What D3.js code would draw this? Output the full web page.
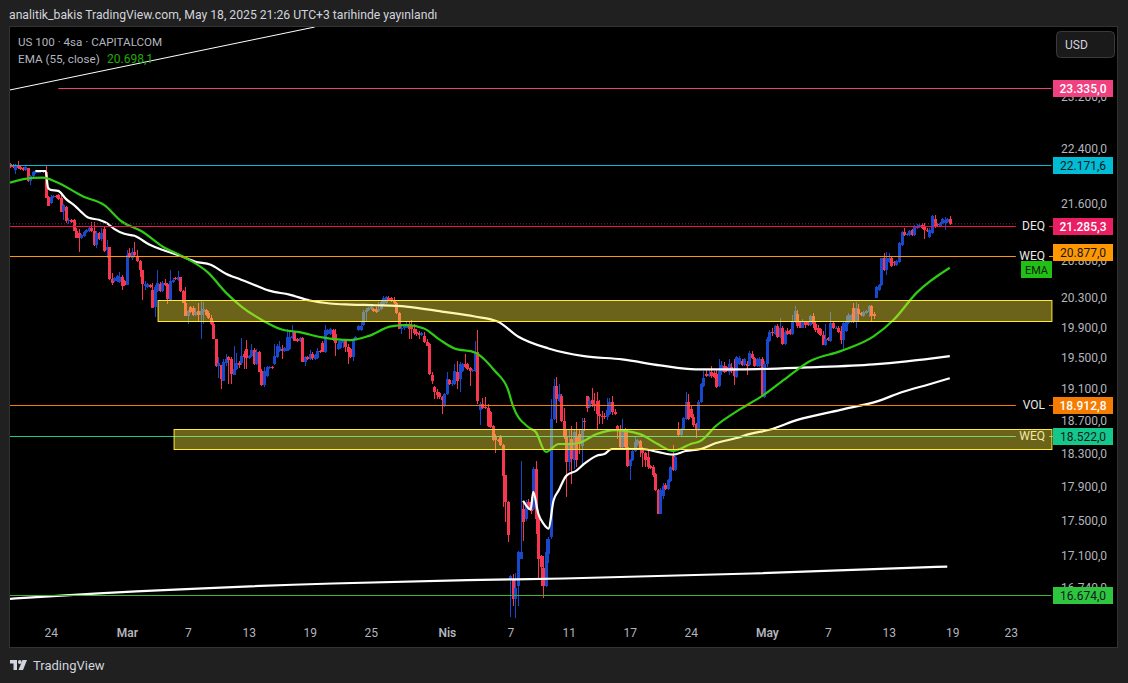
<!DOCTYPE html>
<html>
<head>
<meta charset="utf-8">
<script src="https://cdn.jsdelivr.net/npm/d3@7"></script>
<style>
  html, body { margin: 0; padding: 0; background: #202020; }
  svg { display: block; }
  text { font-family: Roboto, "Liberation Sans", sans-serif; }
</style>
</head>
<body>
<div id="chart"></div>
<script>
// 4h candles, one entry per bar
const opens = [
22201,22186,22113,22172,22157,22142,22113,22142,21953,22025,
22069,22069,22084,22098,22084,21721,21635,21721,21736,21750,
21707,21521,21578,21379,21393,21393,21237,21209,21139,21167,
21223,21237,21279,21237,21041,21209,21125,21265,20972,21014,
20573,20545,20545,20532,20600,20545,20491,20930,20860,20944,
20888,20819,20696,20478,20464,20491,20424,20195,20410,20505,
20410,20518,20505,20289,20532,20586,20559,20600,20410,20249,
20075,20195,20182,20088,20142,20088,20128,20155,20115,20048,
19956,19759,19408,19421,19218,19447,19525,19499,19294,19370,
19447,19447,19564,19628,19512,19538,19615,19434,19589,19345,
19167,19281,19383,19395,19434,19525,19602,19628,19602,19602,
19628,19772,19851,19759,19733,19772,19460,19525,19499,19564,
19499,19512,19602,19707,19589,19824,19824,19877,19824,19628,
19641,19707,19733,19654,19628,19525,19759,19877,19877,19943,
20128,20155,20168,20168,20168,20142,20168,20236,20249,20316,
20316,20289,20249,20115,19890,19916,19916,19956,19943,19890,
19851,19838,19811,19798,19720,19693,19294,19142,19078,19066,
19015,18903,19053,19230,19180,19180,19332,19243,19345,19434,
19434,19383,19345,19345,19589,18853,18928,18890,18878,18828,
18654,18531,18482,18519,18421,18059,17739,16847,16847,16626,
16769,17083,17657,17541,17739,17739,17657,18131,17541,17117,
16981,16769,17140,17333,18740,19154,18965,19028,18716,18531,
18215,18494,18239,18519,18555,18409,18716,19028,18890,18977,
18928,18965,18803,18778,18778,18765,18803,18952,18828,18654,
18617,18397,18592,18397,18167,18239,18348,18433,18470,18372,
18324,18276,18167,18155,18071,17880,17599,17810,17940,17892,
17987,18288,18119,18617,18543,18617,18740,18952,18865,18765,
18679,18605,18952,19154,19307,19281,19332,19319,19307,19154,
19332,19408,19395,19332,19395,19370,19268,19434,19473,19421,
19434,19421,19564,19512,19408,19408,19499,19015,19434,19733,
19851,19824,19930,19785,19903,19693,19864,19877,19824,19995,
20102,19995,19916,19995,19995,19943,20075,19956,19903,19890,
19811,19680,19772,19733,19982,19903,19916,19864,19746,19864,
19982,19995,20182,19995,20168,20115,20075,20115,20128,20209,
20102,20316,20424,20491,20860,20696,20806,20860,20806,20764,
20806,21041,21223,21181,21181,21251,21181,21279,21294,21322,
21308,21251,21153,21209,21407,21336,21308,21350,21350,21365,21407];
const highs = [
22216,22201,22201,22245,22172,22157,22172,22142,22040,22098,
22113,22113,22113,22113,22172,21736,21750,21750,21750,21765,
21750,21621,21592,21421,21407,21407,21279,21265,21195,21237,
21265,21294,21365,21365,21237,21223,21279,21308,21111,21014,
20655,20600,20628,20669,20628,20559,20972,21000,21000,21083,
20972,20833,20696,20545,20518,20505,20518,20491,20696,20532,
20545,20573,20518,20696,20586,20600,20682,20600,20424,20464,
20155,20209,20209,20182,20249,20276,20262,20168,20142,20088,
19995,19759,19525,19421,19499,19564,19538,19525,19667,19576,
19473,19772,19602,19746,19551,19693,19641,19628,19602,19370,
19395,19408,19408,19408,19693,19693,19733,19680,19654,19890,
19864,19943,19864,19772,19785,19785,19538,19538,19615,19589,
19564,19641,19615,19733,19943,19890,19903,19890,19890,19733,
19746,19759,19746,19693,19641,19772,19798,19943,19995,20155,
20182,20195,20209,20182,20195,20262,20289,20343,20343,20343,
20329,20329,20262,20128,19956,19969,19995,20009,20022,19956,
19890,19864,19851,19851,19759,19707,19332,19154,19116,19078,
19028,19066,19332,19243,19230,19434,19473,19460,19447,19564,
19447,19395,19370,19733,19877,18952,19003,19015,18928,18840,
18666,18555,18494,18543,18433,18059,17751,16892,16903,16914,
17173,18227,17751,17762,17774,17798,18155,18227,17622,17128,
17106,17310,17333,18990,19243,19268,19180,19053,18878,18617,
18617,18654,18617,18703,18617,18753,18753,19028,19015,19129,
19066,19078,18977,18840,18815,19003,19003,19028,18865,18666,
18666,18740,18629,18592,18251,18360,18531,18494,18482,18397,
18336,18372,18179,18179,18083,17892,17904,17964,17964,18011,
18167,18421,18288,18703,18629,18765,19078,19053,18903,18803,
18691,18977,19192,19345,19357,19370,19408,19345,19370,19499,
19473,19460,19408,19499,19447,19499,19538,19538,19499,19512,
19473,19602,19602,19525,19512,19525,19525,19473,19785,19877,
19903,19943,19956,20048,19930,19877,19916,19890,20088,20209,
20155,20009,20035,20009,20009,20088,20115,19995,19943,19903,
19864,19956,19785,20128,20009,19930,19930,19930,19995,20075,
20115,20102,20249,20262,20236,20128,20142,20155,20222,20222,
20128,20478,20505,20860,20930,20944,20930,20874,20819,20833,
21083,21237,21279,21209,21251,21265,21322,21336,21336,21350,
21350,21279,21279,21464,21464,21350,21365,21421,21436,21421,21450];
const lows = [
22142,22142,22055,22128,22113,22098,22098,21938,21895,21982,
22055,22069,22069,22069,21707,21592,21621,21707,21707,21678,
21507,21393,21350,21336,21350,21237,21139,20944,21125,21153,
21209,21223,21223,21028,21000,21111,21097,20944,20860,20559,
20491,20532,20532,20518,20424,20478,20491,20860,20833,20888,
20806,20600,20289,20424,20451,20451,20182,20062,20397,20397,
20397,20478,20236,20289,20518,20559,20545,20397,20249,20075,
19969,20115,20075,20075,19995,19759,19956,20075,20035,19943,
19759,19395,19256,19116,19218,19408,19180,19180,19294,19357,
19383,19421,19370,19370,19499,19525,19421,19421,19332,19154,
19142,19268,19370,19370,19421,19512,19589,19499,19589,19602,
19615,19759,19733,19720,19720,19460,19408,19486,19486,19486,
19486,19499,19576,19589,19576,19811,19811,19733,19538,19615,
19628,19641,19589,19434,19512,19473,19746,19864,19864,19930,
19995,20142,20155,20128,20115,20128,20155,20222,20236,20276,
20262,20236,20102,19890,19824,19877,19903,19759,19759,19811,
19798,19759,19798,19707,19667,19294,19180,18990,18990,18990,
18803,18890,19040,19167,19154,19167,19116,19078,19332,19383,
19357,19154,19332,19332,18928,18666,18865,18865,18642,18629,
18470,18324,18458,18409,17680,17506,17276,16429,16549,16418,
16549,17072,17287,17518,17645,17599,17645,17367,16858,16769,
16637,16758,17027,17310,18728,18691,18952,18703,18494,17798,
18107,17952,18131,18155,18312,18167,18592,18828,18878,18890,
18840,18617,18679,18679,18740,18728,18790,18790,18790,18494,
18385,18385,18385,18155,17999,18227,18336,18409,18276,18155,
18155,18131,18131,18035,17869,17599,17599,17774,17880,17880,
17975,18107,18107,18531,18531,18605,18728,18728,18753,18642,
18506,18592,18940,19142,19268,19268,19256,19256,19129,19142,
19294,19319,19332,19294,19319,19167,19256,19421,19408,19408,
19294,19408,19499,19395,19395,19395,19015,19003,19395,19720,
19798,19811,19772,19772,19680,19680,19811,19811,19811,19982,
19916,19903,19903,19903,19930,19930,19903,19851,19824,19798,
19680,19667,19733,19720,19890,19890,19838,19693,19615,19851,
19969,19982,19982,19916,20009,20075,20062,20102,20062,20009,
20035,20316,20410,20478,20682,20628,20792,20737,20751,20751,
20792,21028,21167,21167,21167,21167,21167,21265,21279,21265,
21125,21223,21139,21195,21279,21308,21294,21336,21251,21350,21322];
const closes = [
22157,22157,22186,22142,22128,22113,22157,21953,22025,22084,
22098,22098,22098,22084,21707,21592,21721,21736,21721,21693,
21507,21606,21379,21393,21365,21237,21139,21139,21181,21223,
21251,21279,21237,21041,21209,21125,21209,20958,21014,20573,
20518,20586,20614,20600,20478,20491,20902,20888,20944,20902,
20819,20696,20505,20505,20505,20464,20182,20464,20518,20410,
20518,20491,20302,20545,20559,20573,20600,20410,20249,20075,
20142,20128,20088,20128,20088,20142,20168,20088,20048,19956,
19759,19408,19447,19243,19460,19499,19486,19307,19370,19447,
19421,19538,19525,19512,19538,19615,19434,19589,19332,19167,
19345,19395,19395,19383,19538,19667,19654,19602,19641,19785,
19785,19798,19733,19733,19772,19460,19525,19499,19564,19512,
19551,19602,19589,19589,19877,19877,19890,19746,19707,19693,
19733,19746,19654,19589,19525,19759,19785,19930,19930,20128,
20155,20182,20195,20142,20128,20168,20262,20316,20329,20289,
20276,20249,20115,19890,19916,19943,19956,19890,19890,19838,
19824,19811,19838,19720,19667,19307,19218,19078,19040,19015,
18977,19053,19243,19180,19192,19345,19218,19434,19434,19395,
19370,19345,19357,19589,18965,18928,18878,18878,18654,18642,
18482,18482,18470,18421,18047,17739,17356,16881,16626,16747,
17162,17162,17506,17739,17657,17634,18131,17541,17083,16992,
16769,17162,17310,18740,19154,18990,19053,18716,18531,18215,
18433,18251,18580,18239,18433,18605,18703,18878,18965,18928,
18915,18803,18778,18765,18765,18853,18952,18828,18803,18617,
18397,18617,18397,18167,18239,18348,18458,18482,18372,18324,
18239,18155,18143,18059,17880,17599,17880,17928,17892,17999,
18155,18119,18276,18543,18617,18753,18952,18740,18765,18666,
18605,18952,19180,19256,19281,19307,19281,19268,19142,19345,
19421,19332,19345,19434,19345,19281,19525,19512,19421,19499,
19408,19576,19512,19408,19499,19499,19028,19434,19759,19851,
19838,19930,19785,19903,19693,19851,19824,19824,19995,20142,
19930,19916,19995,19943,19943,20075,19956,19877,19838,19811,
19680,19759,19746,19982,19903,19916,19851,19746,19982,19995,
20088,20088,19995,20182,20102,20088,20128,20142,20209,20075,
20075,20464,20491,20860,20696,20860,20860,20751,20792,20819,
21069,21223,21181,21195,21237,21181,21308,21308,21322,21279,
21251,21237,21251,21450,21308,21322,21350,21407,21393,21407,21336];

// EMA 55, read every few bars
const emaBars = [0,9,13,18,29,37,44,52,60,68,78,85,91,100,107,114,123,134,141,150,156,163,169,175,183,191,196,198,204,207,211,216,221,224,231,238,248,255,261,268,272,278,287,296,306,315,327,340,348,357,370];
const emaValues = [21928,21996,22000,21942,21725,21606,21369,21227,21018,20879,20655,20383,20199,20000,19890,19855,19785,19750,19802,19930,19947,19903,19759,19641,19589,19345,19116,18906,18642,18580,18336,18433,18433,18445,18555,18605,18555,18433,18348,18433,18473,18658,18856,19028,19268,19477,19606,19798,20022,20383,20723];

// white averages
const slowBars = [10,14,15,16,19,22,26,28,31,35,38,41,45,49,55,61,67,73,79,85,91,96,102,110,118,126,134,144,156,170,183,192,200,212,226,241,256,270,287,314,340,353,370];
const slowValues = [22098,22098,21851,21822,21808,21693,21578,21507,21421,21393,21350,21265,21195,21167,21041,20958,20888,20806,20764,20641,20559,20491,20410,20356,20276,20236,20222,20213,20195,20128,20062,19995,19798,19641,19541,19499,19421,19370,19370,19395,19434,19473,19541];
const fastBars = [202,205,206,208,210,212,214,216,219,223,226,231,234,237,243,249,255,261,266,272,278,286,291,299,310,327,342,351,362,370];
const fastValues = [17751,17649,17857,17599,17483,17425,17754,17872,18047,18111,18191,18291,18311,18372,18372,18372,18336,18303,18348,18372,18445,18506,18555,18608,18731,18856,18969,19078,19180,19256];
const baseBars = [0,35,127,180,218,292,369];
const baseValues = [16632,16692,16802,16839,16858,16914,16992];

// drawn trend line at the top
const trendBars = [0,120];
const trendValues = [23320,24316];

// horizontal levels
const levelPrices = [23335,22171.6,21285.3,20877,18912.8,18522,16674];
const levelNames = ["","","DEQ","WEQ","VOL","WEQ",""];
const levelStartBars = [19,0,0,0,0,0,0];
const levelEndBars = [410,410,396,396,396,396,410];
const lastPrice = 21336;

// yellow zones
const zoneTops = [20282,18613];
const zoneBottoms = [20009,18368];
const zoneStartBars = [58.3,64.6];
const zoneEndBar = 410.2;

// axis labels
const priceTicks = [23200,22400,21600,20800,20300,19900,19500,19100,18700,18300,17900,17500,17100,16740];
const dateBars = [16,46,70,94,118,142,172,197,220,244,268,298,322,346,371,394];
const dateLabels = ["24","Mar","7","13","19","25","Nis","7","11","17","24","May","7","13","19","23"];

const TITLE = "analitik_bakis TradingView.com, May 18, 2025 21:26 UTC+3 tarihinde yayınlandı";
const WIDTH = 1128, HEIGHT = 683;
const PLOT = { left: 10, right: 1117, top: 27, bottom: 647 };
const UP = "#1848cc", DOWN = "#f7374f";
const AXIS_TEXT = "#b2b5be";
const levelColors = ["#f0407f","#00bcd4","#f0134f","#ff9800","#f57c00","#1ac98f","#3fb52f"];
const badgeColors = ["#f0407f","#00bcd4","#e91e63","#ff9800","#f57c00","#14c88c","#2fc63f"];
const badgeText = ["#fff","#131722","#fff","#131722","#fff","#131722","#131722"];
const badgeShift = [0,0,0,-4,0,0,0];
const levelNudge = [-1,0,-1,0,0,0,0]; // pixel row snap

const locale = d3.formatLocale({ decimal: ",", thousands: ".", grouping: [3], currency: ["", ""] });
const fmt = locale.format(",.1f");

const xScale = d3.scaleLinear().domain([0, 370]).range([10, 949.8]);
const yScale = d3.scaleLog().domain([16674, 23335]).range([595, 89]);

const svg = d3.select("#chart").append("svg").attr("width", WIDTH).attr("height", HEIGHT);

svg.append("rect").attr("width", WIDTH).attr("height", HEIGHT).attr("fill", "#202020");
svg.append("rect")
  .attr("x", PLOT.left - 0.5).attr("y", PLOT.top - 0.5)
  .attr("width", PLOT.right - PLOT.left + 1).attr("height", PLOT.bottom - PLOT.top + 1)
  .attr("fill", "#000").attr("stroke", "#333");

svg.append("defs").append("clipPath").attr("id", "plot-clip").append("rect")
  .attr("x", PLOT.left).attr("y", PLOT.top)
  .attr("width", PLOT.right - PLOT.left).attr("height", PLOT.bottom - PLOT.top);
const plot = svg.append("g").attr("clip-path", "url(#plot-clip)");

// candles
const candles = plot.append("g").attr("shape-rendering", "crispEdges");
candles.selectAll("rect.wick").data(opens).join("rect")
  .attr("class", "wick")
  .attr("x", (d, i) => Math.round(xScale(i)))
  .attr("width", 1)
  .attr("y", (d, i) => yScale(highs[i]))
  .attr("height", (d, i) => yScale(lows[i]) - yScale(highs[i]))
  .attr("fill", (d, i) => (closes[i] >= d ? UP : DOWN));
candles.selectAll("rect.body").data(opens).join("rect")
  .attr("class", "body")
  .attr("x", (d, i) => Math.round(xScale(i)) - 1)
  .attr("width", 3)
  .attr("y", (d, i) => yScale(Math.max(d, closes[i])))
  .attr("height", (d, i) => Math.max(1, Math.abs(yScale(d) - yScale(closes[i]))))
  .attr("fill", (d, i) => (closes[i] >= d ? UP : DOWN));

// averages
const curve = d3.line().x((d) => xScale(d[0])).y((d) => yScale(d[1])).curve(d3.curveMonotoneX);
const $drawLine = (bars, values, color, width) => {
  plot.append("path")
    .datum(bars.map((b, i) => [b, values[i]]))
    .attr("d", curve)
    .attr("fill", "none")
    .attr("stroke", color)
    .attr("stroke-width", width);
};
$drawLine(baseBars, baseValues, "#fff", 2.2);
$drawLine(slowBars, slowValues, "#fff", 2.2);
$drawLine(fastBars, fastValues, "#fff", 2.2);
$drawLine(emaBars, emaValues, "#2ecc12", 2.2);
$drawLine(trendBars, trendValues, "#fff", 1);

// last price dots
plot.append("line")
  .attr("x1", xScale(0)).attr("x2", xScale(396))
  .attr("y1", yScale(lastPrice)).attr("y2", yScale(lastPrice))
  .attr("stroke", "#6b3a42").attr("stroke-dasharray", "1,2");

// levels
const levelRow = (i) => Math.floor(yScale(levelPrices[i])) + levelNudge[i];
levelPrices.forEach((price, i) => {
  const y = levelRow(i) + 0.5;
  plot.append("line")
    .attr("x1", xScale(levelStartBars[i])).attr("x2", xScale(levelEndBars[i]))
    .attr("y1", y).attr("y2", y)
    .attr("stroke", levelColors[i]);
  if (levelNames[i]) {
    plot.append("text")
      .attr("x", 1045).attr("y", y + 3.5)
      .attr("text-anchor", "end")
      .attr("font-size", 12)
      .attr("fill", "#e8e8e8")
      .text(levelNames[i]);
    plot.append("line")
      .attr("x1", 1049).attr("x2", 1053)
      .attr("y1", y).attr("y2", y)
      .attr("stroke", levelColors[i]);
  }
});

// zones go over everything in the pane
zoneTops.forEach((top, i) => {
  plot.append("rect")
    .attr("x", xScale(zoneStartBars[i]))
    .attr("y", Math.round(yScale(top)) + 0.5)
    .attr("width", xScale(zoneEndBar) - xScale(zoneStartBars[i]))
    .attr("height", Math.round(yScale(zoneBottoms[i])) - Math.round(yScale(top)))
    .attr("fill", "#ffeb3b").attr("fill-opacity", 0.42)
    .attr("stroke", "#ffeb3b");
});

// axes
const yAxis = d3.axisRight(yScale).tickValues(priceTicks).tickFormat(fmt).tickSize(0);
const yG = svg.append("g").attr("transform", "translate(1052,0)").call(yAxis);
yG.select(".domain").remove();
yG.selectAll("text").attr("x", 9).attr("dy", "0.2em").attr("font-size", 12).attr("fill", AXIS_TEXT)
  .style("font-family", "Roboto");

const xAxis = d3.axisBottom(xScale).tickValues(dateBars).tickFormat((d, i) => dateLabels[i]).tickSize(0);
const xG = svg.append("g").attr("transform", "translate(0,625)").call(xAxis);
xG.select(".domain").remove();
xG.selectAll("text").attr("y", 3).attr("font-size", 12).attr("fill", AXIS_TEXT)
  .attr("font-weight", (d, i) => (/[a-z]/i.test(dateLabels[i]) ? 600 : 400))
  .style("font-family", "Roboto");

// price badges
levelPrices.forEach((price, i) => {
  const y = levelRow(i) + badgeShift[i];
  svg.append("rect")
    .attr("x", 1053).attr("y", y - 8).attr("width", 60).attr("height", 17)
    .attr("fill", badgeColors[i]);
  svg.append("text")
    .attr("x", 1083).attr("y", y + 4.5)
    .attr("text-anchor", "middle")
    .attr("font-size", 12)
    .attr("font-weight", i === 0 || i === 2 || i === 4 ? 500 : 400)
    .attr("fill", badgeText[i])
    .text(fmt(price));
});

// EMA tag
svg.append("rect").attr("x", 1021).attr("y", 261).attr("width", 31).attr("height", 17).attr("fill", "#22c016");
svg.append("text").attr("x", 1036.5).attr("y", 274).attr("text-anchor", "middle")
  .attr("font-size", 11).attr("fill", "#10240c").text("EMA");

// currency button
svg.append("rect").attr("x", 1056.5).attr("y", 31.5).attr("width", 58).attr("height", 26).attr("rx", 4)
  .attr("fill", "#1a1a1a").attr("stroke", "#3a3a3a");
svg.append("text").attr("x", 1065).attr("y", 49).attr("font-size", 12).attr("fill", "#d1d4dc").text("USD");

// title and legend
svg.append("text").attr("x", 9).attr("y", 19).attr("font-size", 12.2).attr("fill", "#d1d4dc").text(TITLE);
svg.append("text").attr("x", 18).attr("y", 46).attr("font-size", 11.6).attr("fill", AXIS_TEXT).text("US 100 · 4sa · CAPITALCOM");
svg.append("text").attr("x", 18).attr("y", 63).attr("font-size", 11.7).attr("fill", AXIS_TEXT).text("EMA (55, close)");
svg.append("text").attr("x", 107).attr("y", 63).attr("font-size", 12).attr("fill", "#22ab0a").text("20.698,1");

// watermark
const logo = svg.append("g").attr("transform", "translate(10,660)").attr("fill", "#d1d4dc");
logo.append("path").attr("d", "M0 0H7V10H3.5V3.5H0Z");
logo.append("circle").attr("cx", 9.8).attr("cy", 2).attr("r", 1.9);
logo.append("path").attr("d", "M12.5 0H17L13 10H8.5Z");
svg.append("text").attr("x", 33).attr("y", 670).attr("font-size", 13).attr("fill", "#d1d4dc").text("TradingView");
</script>
</body>
</html>
